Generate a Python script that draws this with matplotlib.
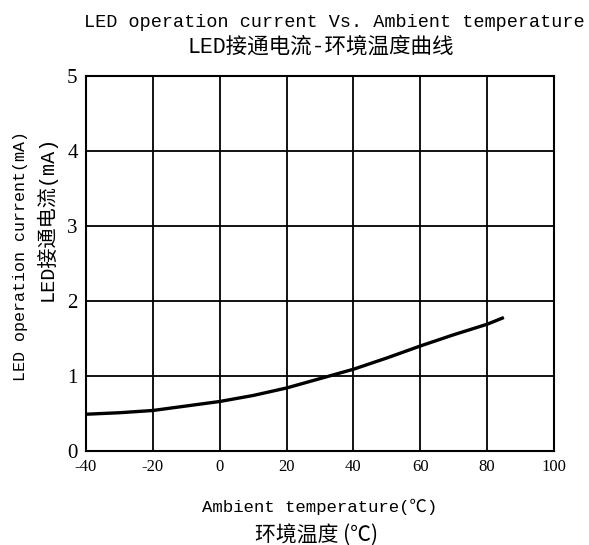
import matplotlib
matplotlib.use("Agg")
import matplotlib.pyplot as plt
import numpy as np

# temperature (C) vs LED operation current (mA)
temp = [-40, -30, -20, -10, 0, 10, 20, 32, 40, 50, 60, 70, 80, 85]
current = [0.49, 0.51, 0.54, 0.60, 0.66, 0.74, 0.84, 0.99, 1.09, 1.24, 1.40, 1.55, 1.69, 1.78]

xticks = [-40, -20, 0, 20, 40, 60, 80, 100]
yticks = [0, 1, 2, 3, 4, 5]

plt.rcParams['axes.unicode_minus'] = False
mono = ['Liberation Mono', 'Noto Sans CJK SC', 'DejaVu Sans']
cjk = ['Noto Sans CJK SC', 'DejaVu Sans']

fig = plt.figure(figsize=(5.89, 5.45), dpi=100)
ax = fig.add_axes([0.146, 0.1725, 0.7946, 0.6881])

ax.plot(temp, current, color='black', lw=2.4, solid_capstyle='butt')

ax.set_xlim(-40, 100)
ax.set_ylim(0, 5)
ax.set_xticks(xticks)
ax.set_yticks(yticks)
ax.grid(True, color='black', lw=1.3)
ax.tick_params(length=0, pad=6)
for lab in ax.get_xticklabels():
    lab.set_fontfamily('Liberation Serif')
    lab.set_fontsize(12)
for lab in ax.get_yticklabels():
    lab.set_fontfamily('Liberation Serif')
    lab.set_fontsize(15)
for s in ax.spines.values():
    s.set_linewidth(1.5)

fig.text(0.568, 0.958, 'LED operation current Vs. Ambient temperature',
         ha='center', va='center', fontsize=13.3, family=mono)
fig.text(0.545, 0.913, 'LED接通电流-环境温度曲线',
         ha='center', va='center', fontsize=15.5, family=mono, weight='medium')

fig.text(0.034, 0.53, 'LED operation current(mA)', rotation=90,
         ha='center', va='center', fontsize=12, family=mono)
fig.text(0.078, 0.6, 'LED接通电流(mA)', rotation=90,
         ha='center', va='center', fontsize=14.5, family=mono, weight='medium')

fig.text(0.542, 0.07, 'Ambient temperature(℃)',
         ha='center', va='center', fontsize=12.5, family=mono)
fig.text(0.537, 0.018, '环境温度 (℃)',
         ha='center', va='center', fontsize=15, family=cjk, weight='medium')

fig.savefig('out.png', dpi=100)
